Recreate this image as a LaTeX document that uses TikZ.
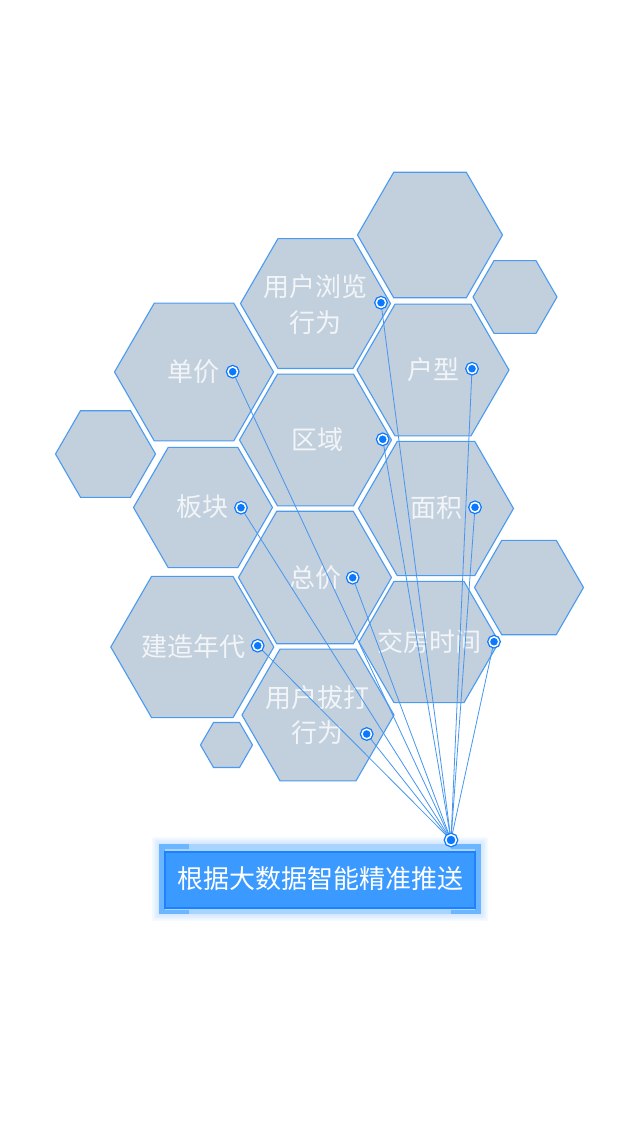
\documentclass[tikz,border=0pt]{standalone}
\usepackage{fontspec}
\newfontfamily\cjk{Noto Sans CJK SC}
\usetikzlibrary{shapes.geometric}
\definecolor{hexfill}{RGB}{194,207,220}
\definecolor{hexline}{RGB}{74,155,240}
\definecolor{dotblue}{RGB}{10,120,255}
\definecolor{linkblue}{RGB}{70,150,240}
\definecolor{btnfill}{RGB}{58,154,255}
\definecolor{btnline}{RGB}{30,130,255}
\definecolor{framelight}{RGB}{168,212,255}
\definecolor{framedark}{RGB}{108,182,255}
\definecolor{glowblue}{RGB}{150,200,255}
\definecolor{labeltext}{RGB}{242,245,248}
\newcommand\hexcell[4]{\node[hexa, minimum size=#4pt] (#1) at (#2,#3) {};}
\begin{document}
\begin{tikzpicture}[x=1pt,y=-1pt,
 hexa/.style={regular polygon, regular polygon sides=6, inner sep=0pt, outer sep=0pt, draw=hexline, fill=hexfill, line width=1.1pt},
 lbl/.style={font=\cjk\fontsize{26}{30}\selectfont, text=labeltext, inner sep=0pt, text height=19.8pt, text depth=0pt},
 btntext/.style={font=\cjk\fontsize{26}{30}\selectfont, text=white, inner sep=0pt},
 dotnode/.style={circle, inner sep=0pt, minimum size=9.5pt, fill=dotblue, draw=dotblue, double=white, double distance=1.5pt, line width=1.3pt},
 link/.style={draw=linkblue, line width=0.8pt},
]
\useasboundingbox (0,0) rectangle (640,1136);
\fill[white] (0,0) rectangle (640,1136);

% hexagons
\hexcell{h1}{430}{235}{145}
\hexcell{h2}{515}{297}{84}
\hexcell{h3}{315.5}{303.5}{150}
\hexcell{h4}{433}{370}{152}
\hexcell{h5}{194}{372}{159}
\hexcell{h6}{315.5}{440}{152}
\hexcell{h7}{105.5}{454}{100}
\hexcell{h8}{203}{507.5}{139}
\hexcell{h9}{436}{508.5}{155}
\hexcell{h10}{315}{577.5}{153}
\hexcell{h11}{529}{587.5}{109}
\hexcell{h12}{192.3}{647}{163}
\hexcell{h13}{429}{642}{140}
\hexcell{h14}{318}{715}{152}
\hexcell{h15}{226.5}{745}{52}

% labels
\node[lbl] (t3a) at (315,287) {用户浏览};
\node[lbl] (t3b) at (315,323) {行为};
\node[lbl] (t5) at (193.5,372) {单价};
\node[lbl] (t6) at (317,440) {区域};
\node[lbl] (t4) at (433,370) {户型};
\node[lbl] (t9) at (436,508) {面积};
\node[lbl] (t8) at (202.5,507) {板块};
\node[lbl] (t10) at (315.5,578) {总价};
\node[lbl] (t12) at (193.5,647) {建造年代};
\node[lbl] (t14a) at (317.5,698) {用户拔打};
\node[lbl] (t14b) at (317.5,733) {行为};
\node[lbl] (t13) at (429,642) {交房时间};

% button
\foreach \g in {7,5.5,4,2.5,1}{
  \fill[glowblue, fill opacity=0.09, rounded corners=2pt] (159-\g,844-\g) rectangle (481+\g,914+\g);
}
\fill[framelight] (159,844) rectangle (481,914);
\fill[framedark] (159,844) rectangle (165,914);
\fill[framedark] (159,844) rectangle (189,848.5);
\fill[framedark] (159,909.5) rectangle (189,914);
\fill[framedark] (475,844) rectangle (481,914);
\fill[framedark] (451,844) rectangle (481,848.5);
\fill[framedark] (451,909.5) rectangle (481,914);
\node[draw=btnline, fill=btnfill, line width=1.2pt, minimum width=310pt, minimum height=56pt, inner sep=0pt] (btn) at (320,880) {};
\node[btntext] (btnlabel) at (320,879) {根据大数据智能精准推送};

% anchor points of the dots
\coordinate (hubpt) at (451,840);
\coordinate (c3) at (381,302.7);
\coordinate (c5) at (232.7,371.7);
\coordinate (c6) at (382.7,439.3);
\coordinate (c4) at (472,368.7);
\coordinate (c9) at (475,507.3);
\coordinate (c8) at (241,507.7);
\coordinate (c10) at (352.7,577.7);
\coordinate (c12) at (257.7,645.7);
\coordinate (c14) at (366.7,734);
\coordinate (c13) at (494,641.7);

% links
\foreach \d in {c3,c5,c6,c4,c9,c8,c10,c12,c14,c13}{
  \draw[link] (\d) -- (hubpt);
}

% dots
\foreach \d in {c3,c5,c6,c4,c9,c8,c10,c12,c14,c13}{
  \node[dotnode] (dot-\d) at (\d) {};
}
\node[dotnode, minimum size=10.5pt] (hub) at (hubpt) {};
\end{tikzpicture}
\end{document}
